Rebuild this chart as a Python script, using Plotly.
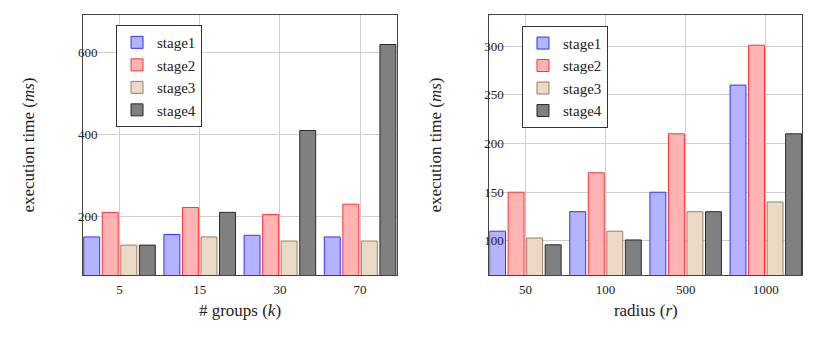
import plotly.graph_objects as go

groups = ["5", "15", "30", "70"]
radius = ["50", "100", "500", "1000"]
stages = ["stage1", "stage2", "stage3", "stage4"]

groups_vals = {
    "stage1": [150, 156, 154, 150],
    "stage2": [210, 222, 205, 230],
    "stage3": [130, 150, 140, 140],
    "stage4": [130, 210, 410, 620],
}
radius_vals = {
    "stage1": [110, 130, 150, 260],
    "stage2": [150, 170, 210, 301],
    "stage3": [103, 110, 130, 140],
    "stage4": [96, 101, 130, 210],
}

styles = {
    "stage1": ("#b3b3ff", "#3333ff"),
    "stage2": ("#ffb3b3", "#ff3333"),
    "stage3": ("#ead9c4", "#9c7f63"),
    "stage4": ("#808080", "#2a2a2a"),
}

font = "Liberation Serif"
fig = go.Figure()

for s in stages:
    fill, line = styles[s]
    fig.add_trace(go.Bar(
        x=groups, y=groups_vals[s], name=s,
        marker=dict(color=fill, line=dict(color=line, width=1)),
        xaxis="x", yaxis="y", legend="legend",
    ))
for s in stages:
    fill, line = styles[s]
    fig.add_trace(go.Bar(
        x=radius, y=radius_vals[s], name=s,
        marker=dict(color=fill, line=dict(color=line, width=1)),
        xaxis="x2", yaxis="y2", legend="legend2",
    ))

axis_common = dict(
    showline=True, linecolor="#444", linewidth=1, mirror=True,
    showgrid=True, gridcolor="#d0d0d0", gridwidth=1,
    zeroline=False, ticks="", ticklen=0, automargin=False,
    tickfont=dict(family=font, size=13, color="#222"),
)
legend_common = dict(
    xanchor="left", yanchor="top",
    bgcolor="white", bordercolor="#333", borderwidth=1,
    font=dict(family=font, size=15, color="#222"),
    tracegroupgap=0, itemwidth=30,
)

# the page body adds an 8px offset, so domains are shifted to compensate
fig.update_layout(
    width=829, height=342,
    margin=dict(l=0, r=0, t=0, b=0, autoexpand=False),
    paper_bgcolor="white", plot_bgcolor="white",
    barmode="group", bargap=0.075, bargroupgap=0.14,
    font=dict(family=font, color="#222"),
    xaxis=dict(domain=[0.0905, 0.4692], anchor="y", type="category",
               range=[-0.455, 3.46], ticklabelstandoff=2,
               title=dict(text="# groups (<i>k</i>)", font=dict(family=font, size=17), standoff=8),
               **axis_common),
    yaxis=dict(domain=[0.2193, 0.9795], anchor="x", range=[57, 692],
               tickvals=[200, 400, 600], ticklabelstandoff=-18,
               title=dict(text="execution time (<i>ms</i>)", font=dict(family=font, size=17), standoff=38),
               **axis_common),
    xaxis2=dict(domain=[0.5806, 0.9581], anchor="y2", type="category",
                range=[-0.45, 3.455], ticklabelstandoff=2,
                title=dict(text="radius (<i>r</i>)", font=dict(family=font, size=17), standoff=8),
                **axis_common),
    yaxis2=dict(domain=[0.2193, 0.9795], anchor="x2", range=[65, 332],
                tickvals=[100, 150, 200, 250, 300], ticklabelstandoff=-18,
                title=dict(text="execution time (<i>ms</i>)", font=dict(family=font, size=17), standoff=38),
                **axis_common),
    legend=dict(x=0.1303, y=0.950, **legend_common),
    legend2=dict(x=0.62, y=0.948, **legend_common),
)

fig.write_html("out.html")
